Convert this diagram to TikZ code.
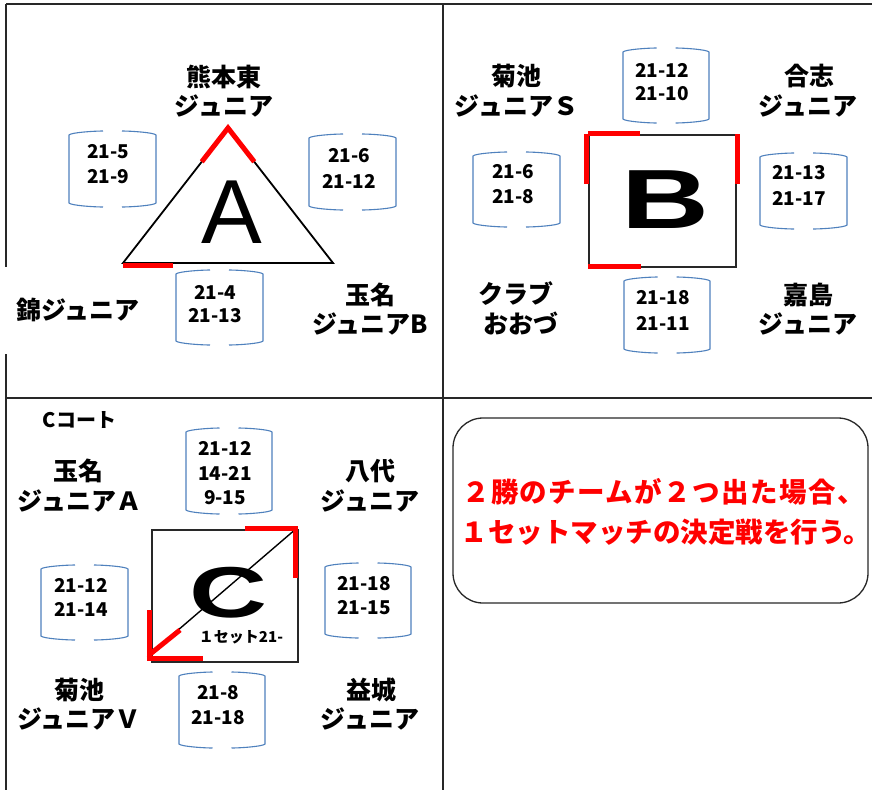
\documentclass[tikz,border=0pt]{standalone}
\usepackage{fontspec}
\newfontfamily\jp{Noto Sans CJK JP}
\newfontfamily\jpls{Noto Sans CJK JP}[LetterSpace=5.2]
\newfontfamily\lat{Liberation Sans}
\definecolor{brblue}{RGB}{79,129,189}
\definecolor{framec}{RGB}{40,40,40}
\tikzset{
  framestyle/.style={draw=framec,line width=1.3pt},
  brk/.style={draw=brblue,line width=1.1pt},
  redmark/.style={draw=red,line width=5pt},
  court/.style={draw=black,line width=1.8pt},
  courtsq/.style={draw=framec,line width=1.3pt},
  score/.style={inner sep=0pt,font=\jp\bfseries\fontsize{19}{19}\selectfont},
  team/.style={inner sep=0pt,font=\jp\bfseries\fontsize{25}{25}\selectfont},
  bigletter/.style={inner sep=0pt},
  note/.style={inner sep=0pt,text=red},
}
% score bracket box: L T R B
\newcommand\scorebr[4]{%
  \pgfmathsetmacro\bcx{(#1+#3)/2}%
  \draw[brk] (\bcx-9.5,#2) .. controls (#1+25,#2) and (#1+2,#2+1.5) .. (#1,#2+4) -- (#1,#4-4) .. controls (#1+2,#4-1.5) and (#1+25,#4) .. (\bcx-9.5,#4);
  \draw[brk] (\bcx+9.5,#2) .. controls (#3-25,#2) and (#3-2,#2+1.5) .. (#3,#2+4) -- (#3,#4-4) .. controls (#3-2,#4-1.5) and (#3-25,#4) .. (\bcx+9.5,#4);
}
\begin{document}
\begin{tikzpicture}[x=1pt,y=-1pt]
\useasboundingbox (0,0) rectangle (872,790);
\fill[white] (0,0) rectangle (872,790);
% frame
\draw[framestyle] (6,4) -- (872,4);
\draw[framestyle] (6,4) -- (6,267);
\draw[framestyle] (6,354) -- (6,790);
\draw[framestyle] (443,4) -- (443,790);
\draw[framestyle] (6,398) -- (872,398);

% ===== Court A =====
\draw[court] (228,128) -- (333,263) -- (123,263) -- cycle;
\draw[redmark] (201.75,161.75) -- (228,128) -- (254.25,161.75);
\draw[redmark] (123,265.5) -- (173,265.5);
\node[bigletter,font=\lat\fontsize{91}{91}\selectfont] (letA) at (232,212.5) {A};

\node[team] (a_kum1) at (224,77) {熊本東};
\node[team] (a_kum2) at (224,106) {ジュニア};
\node[team] (a_nis) at (78,309.5) {錦ジュニア};
\node[team] (a_tam1) at (370,295) {玉名};
\node[team] (a_tam2) at (370,324) {ジュニアB};

\scorebr{69}{131}{156}{207}
\node[score] (a_s1a) at (108,152) {21-5};
\node[score] (a_s1b) at (108,177) {21-9};
\scorebr{309}{134}{396}{210}
\node[score] (a_s2a) at (349,156) {21-6};
\node[score] (a_s2b) at (349,181) {21-12};
\scorebr{176}{270}{263}{345}
\node[score] (a_s3a) at (215,292) {21-4};
\node[score] (a_s3b) at (215,316) {21-13};

% ===== Court B =====
\draw[courtsq] (589,135) rectangle (736,267);
\draw[redmark] (586.5,134) -- (586.5,183.5);
\draw[redmark] (588,133.5) -- (640,133.5);
\draw[redmark] (737,134) -- (737,183.5);
\draw[redmark] (588,266.5) -- (641,266.5);
\node[bigletter,font=\lat\bfseries\fontsize{84}{84}\selectfont] (letB) at (665,200) {\scalebox{1.45}[1]{B}};

\node[team] (b_kik1) at (516.5,76) {菊池};
\node[team] (b_kik2) at (516.5,106) {ジュニアＳ};
\node[team] (b_kos1) at (809,76) {合志};
\node[team] (b_kos2) at (808,106) {ジュニア};
\node[team] (b_clb1) at (516,294) {クラブ};
\node[team] (b_clb2) at (521,323.5) {おおづ};
\node[team] (b_kas1) at (808,295) {嘉島};
\node[team] (b_kas2) at (808,324) {ジュニア};

\scorebr{623}{48}{709}{123}
\node[score] (b_s1a) at (662,70) {21-12};
\node[score] (b_s1b) at (662,94) {21-10};
\scorebr{473}{152}{560}{227}
\node[score] (b_s2a) at (513,172) {21-6};
\node[score] (b_s2b) at (513,197) {21-8};
\scorebr{760}{153}{847}{229}
\node[score] (b_s3a) at (799,173) {21-13};
\node[score] (b_s3b) at (799,198) {21-17};
\scorebr{624}{277}{710}{353}
\node[score] (b_s4a) at (663,298) {21-18};
\node[score] (b_s4b) at (663,323) {21-11};

% ===== Court C =====
\node[inner sep=0pt,font=\jp\bfseries\fontsize{20}{20}\selectfont] (c_title) at (79.5,420) {Cコート};
\draw[courtsq] (152,530) rectangle (298,662);
\node[bigletter,font=\lat\bfseries\fontsize{72}{72}\selectfont] (letC) at (228,592.5) {\scalebox{1.5}[1]{C}};
\draw[line width=1.4pt] (149,655) -- (297,528);
\draw[redmark] (149,655) -- (180,630);
\draw[redmark] (245,528.5) -- (297.5,528.5);
\draw[redmark] (295.5,528) -- (295.5,578);
\draw[redmark] (149,610) -- (149,660.5);
\draw[redmark] (146.5,658) -- (203,658);
\node[inner sep=0pt,font=\jp\bfseries\fontsize{15}{15}\selectfont] (c_set) at (241,637) {１セット21-};

\node[team] (c_tam1) at (78,471) {玉名};
\node[team] (c_tam2) at (79.5,501) {ジュニアＡ};
\node[team] (c_yat1) at (370,471) {八代};
\node[team] (c_yat2) at (370,501) {ジュニア};
\node[team] (c_kik1) at (79,690) {菊池};
\node[team] (c_kik2) at (79,718.5) {ジュニアＶ};
\node[team] (c_mas1) at (371,690) {益城};
\node[team] (c_mas2) at (370,718.5) {ジュニア};

\scorebr{186}{428}{272}{514}
\node[score] (c_s1a) at (225,448) {21-12};
\node[score] (c_s1b) at (225,473) {14-21};
\node[score] (c_s1c) at (225,498) {9-15};
\scorebr{41}{565}{128}{640}
\node[score] (c_s2a) at (81,585) {21-12};
\node[score] (c_s2b) at (81,609) {21-14};
\scorebr{325}{563}{411}{638}
\node[score] (c_s3a) at (364,584) {21-18};
\node[score] (c_s3b) at (364,608) {21-15};
\scorebr{179}{672}{265}{748}
\node[score] (c_s4a) at (218,693) {21-8};
\node[score] (c_s4b) at (218,718) {21-18};

% ===== Note panel =====
\draw[courtsq,rounded corners=30pt] (453,418) rectangle (868,603);
\node[note,font=\jpls\bfseries\fontsize{27.5}{27.5}\selectfont] (noteA) at (663.5,491.5) {２勝のチームが２つ出た場合、};
\node[note,font=\jp\bfseries\fontsize{27.5}{27.5}\selectfont] (noteB) at (666,532.5) {１セットマッチの決定戦を行う。};
\end{tikzpicture}
\end{document}
